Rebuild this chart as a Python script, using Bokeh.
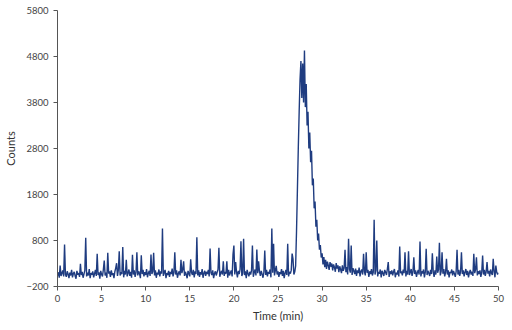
from bokeh.plotting import figure
from bokeh.models import FixedTicker, Range1d
from bokeh.embed import file_html
from bokeh.resources import INLINE

# Sampling: one point every 0.1 min, 0.0 .. 50.0
time_step_min = 0.1

# Counts, one row per minute (x.0 .. x.9)
counts = [
    40, 110, -10, 257, 30, 90, 150, 20, 713, 60,
    10, 130, 70, -20, 100, 40, 160, 0, 80, 120,
    30, -30, 140, 60, 90, 10, 293, 50, 120, -10,
    70, 150, 860, 20, 100, 40, 180, -20, 90, 60,
    130, 0, 80, 160, 30, 510, 50, 110, -30, 140,
    60, 20, 170, 365, 40, 100, -10, 533, 80, 130,
    10, 150, 50, 90, -20, 120, 200, 307, 30, 160,
    567, 40, 110, 70, 660, 0, 140, 60, 380, 20,
    90, 170, 30, 120, -10, 490, 60, 150, 10, 100,
    546, 40, 130, 80, -20, 481, 70, 160, 20, 110,
    50, 180, 0, 90, 140, 30, 496, 70, 120, 533,
    40, 150, -10, 100, 60, 170, 20, 130, 80, 1061,
    30, 110, 160, -20, 90, 50, 140, 10, 120, 70,
    190, 20, 100, 546, 60, 150, -10, 80, 130, 40,
    380, 90, 170, 350, 30, 120, 60, -20, 140, 80,
    20, 394, 100, 50, 160, 0, 130, 70, 872, 40,
    150, 10, 110, 60, 180, -10, 90, 140, 30, 120,
    70, 160, 20, 626, 100, 50, 150, -20, 80, 130,
    40, 110, 170, 641, 10, 90, 140, 60, 350, 30,
    120, 80, 350, -10, 160, 40, 100, 150, 20, 500,
    690, 60, 330, 110, 0, 140, 70, 170, 785, 30,
    90, 837, 50, 130, -20, 160, 80, 20, 120, 60,
    150, 690, 10, 100, 170, 40, 604, 90, 350, 130,
    30, 140, 70, -10, 110, 583, 50, 160, 20, 120,
    80, 170, 0, 1061, 100, 728, 40, 150, 250, 60,
    130, 10, 110, 70, 180, 30, 140, -20, 90, 160,
    50, 728, 20, 120, 80, 150, 517, 400, 60, 120,
    250, 1000, 1900, 2800, 3600, 4300, 4700, 3900, 4650, 3800,
    4930, 3700, 4200, 3300, 3600, 2800, 3150, 2500, 2750, 2000,
    2150, 1500, 1650, 1100, 1250, 800, 950, 600, 700, 430,
    520, 280, 440, 220, 380, 180, 340, 260, 160, 330,
    230, 300, 150, 280, 220, 120, 310, 190, 260, 110,
    240, 170, 90, 260, 140, 200, 598, 110, 220, 60,
    837, 180, 100, 691, 50, 200, 140, 70, 190, 30,
    150, 90, 210, 20, 130, 170, 60, 510, 120, 40,
    546, 100, 160, 10, 130, 70, 180, 40, 110, 1250,
    60, 150, 800, 20, 120, 80, 170, 0, 140, 90,
    30, 160, 110, 50, 180, 330, 10, 130, 70, 150,
    40, 120, 180, 0, 100, 60, 150, 20, 670, 90,
    130, 40, 170, 90, 546, 20, 140, 60, 567, 50,
    110, 180, 30, 120, 437, 70, 150, 10, 100, 160,
    60, 778, 20, 130, 80, 170, 0, 110, 620, 50,
    140, 90, 30, 160, 70, 524, 120, 10, 150, 60,
    452, 100, 170, 750, 40, 130, 546, 80, 180, 20,
    110, 402, 60, 150, 0, 120, 90, 170, 40, 140,
    80, 10, 130, 598, 60, 160, 30, 120, 546, 70,
    150, 20, 110, 180, 50, 140, 0, 100, 160, 60,
    120, 30, 510, 90, 170, 437, 40, 130, 70, 150,
    10, 110, 474, 60, 160, 30, 120, 330, 80, 140,
    20, 170, 90, 50, 402, 130, 0, 257, 110, 60,
    100,
]
time_min = [round(i * time_step_min, 1) for i in range(len(counts))]

x_ticks = [0, 5, 10, 15, 20, 25, 30, 35, 40, 45, 50]
y_ticks = [-200, 800, 1800, 2800, 3800, 4800, 5800]

p = figure(
    width=512, height=330,
    output_backend="svg", toolbar_location=None,
    x_range=Range1d(0, 50), y_range=Range1d(-200, 5800),
    min_border_left=57, min_border_right=14,
    min_border_top=10, min_border_bottom=44,
)
p.line(time_min, counts, line_color="#1f3c80", line_width=1.4)

p.xgrid.grid_line_color = None
p.ygrid.grid_line_color = None
p.outline_line_color = None

p.xaxis.ticker = FixedTicker(ticks=x_ticks)
p.yaxis.ticker = FixedTicker(ticks=y_ticks)
p.xaxis.axis_label = "Time (min)"
p.yaxis.axis_label = "Counts"

for ax in (p.xaxis, p.yaxis):
    ax.axis_line_color = "#555555"
    ax.major_tick_line_color = "#555555"
    ax.major_tick_out = 4
    ax.major_tick_in = 0
    ax.minor_tick_line_color = None
    ax.major_label_text_font = "Lato"
    ax.major_label_text_font_size = "9.5px"
    ax.major_label_text_color = "#444444"
    ax.axis_label_text_font = "Lato"
    ax.axis_label_text_font_size = "11px"
    ax.axis_label_text_font_style = "normal"
    ax.axis_label_text_color = "#333333"

p.xaxis.major_label_standoff = 4
p.xaxis.axis_label_standoff = 4
p.yaxis.major_label_standoff = 5
p.yaxis.axis_label_standoff = 6

open("out.html", "w").write(file_html(p, INLINE))
